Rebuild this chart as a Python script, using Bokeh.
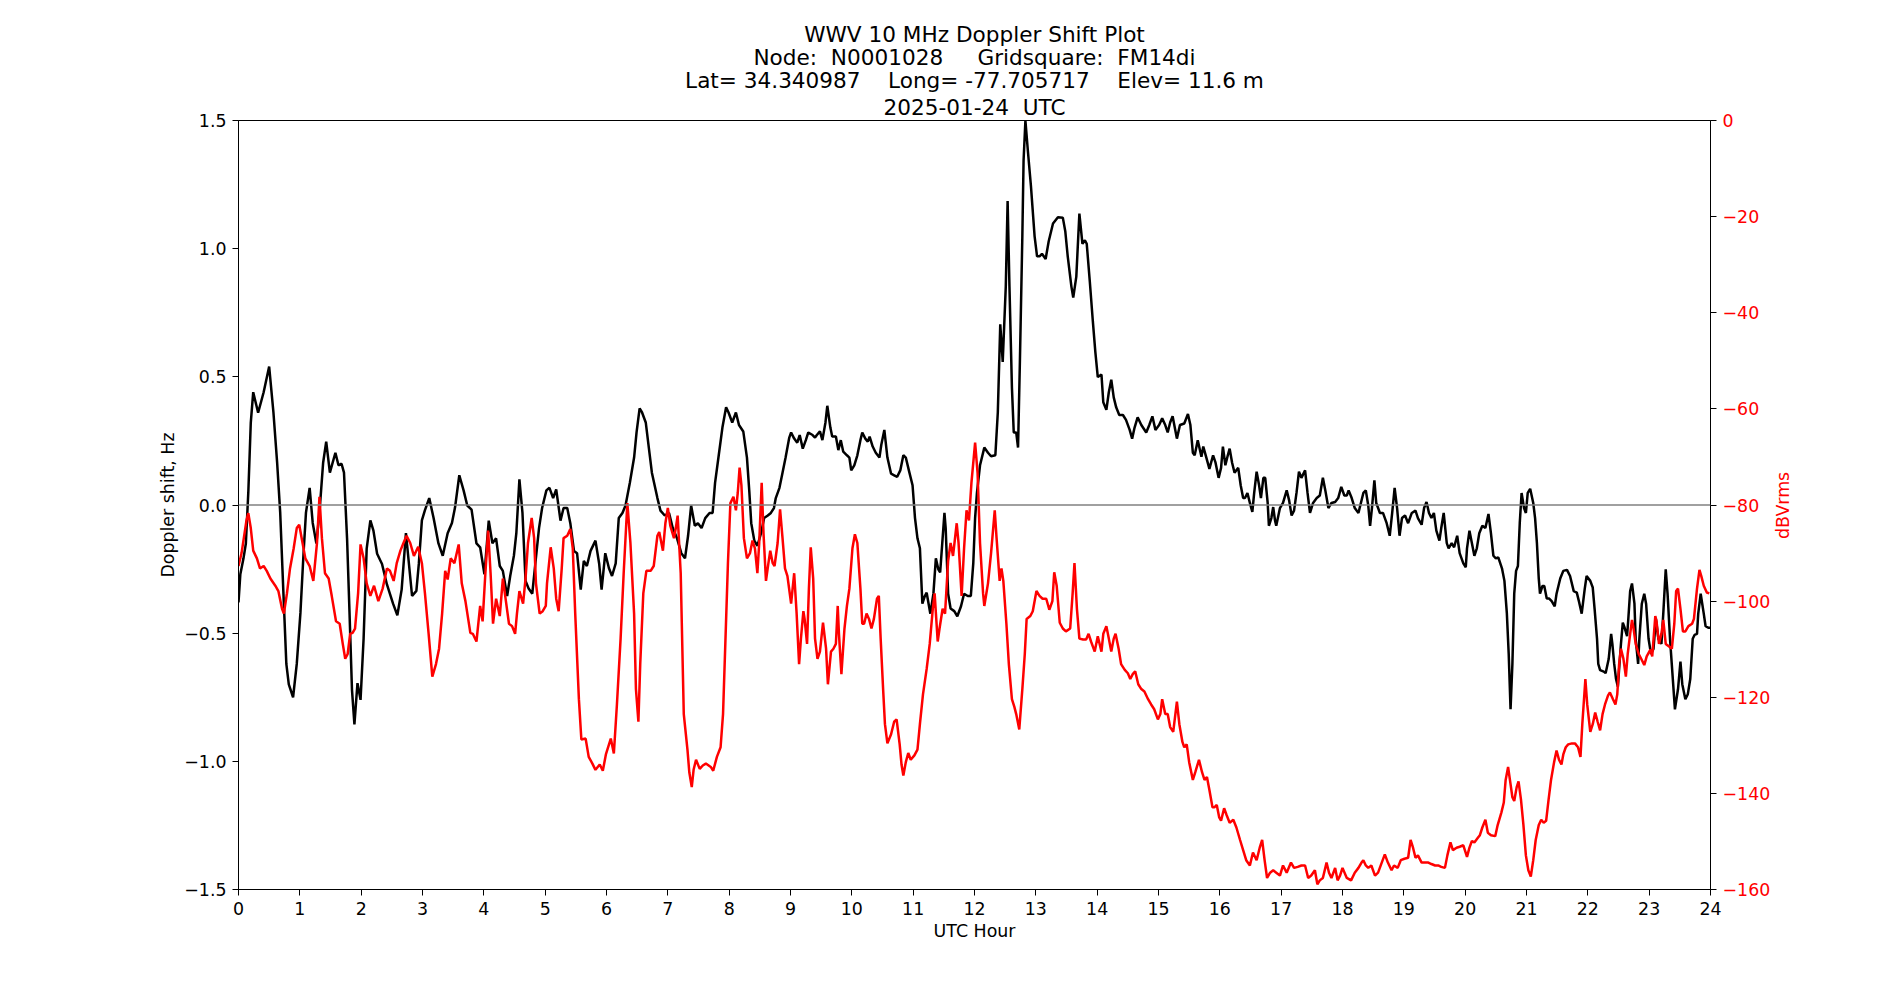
import math
from bokeh.plotting import figure
from bokeh.models import Range1d, LinearAxis, FixedTicker, Span, Title
from bokeh.embed import file_html
from bokeh.resources import INLINE

# ---------------- data ----------------
doppler_hours = [0.00,0.03,0.08,0.12,0.16,0.20,0.24,0.32,0.41,0.50,0.57,0.63,0.68,0.73,0.78,0.82,0.89,0.95,1.01,1.06,1.10,1.16,1.21,1.27,1.32,1.38,1.43,1.49,1.58,1.63,1.68,1.72,1.77,1.81,1.85,1.89,1.94,1.99,2.04,2.09,2.15,2.20,2.26,2.34,2.42,2.52,2.59,2.66,2.73,2.83,2.90,2.94,2.99,3.04,3.11,3.18,3.26,3.33,3.41,3.48,3.53,3.60,3.67,3.73,3.80,3.88,3.94,4.01,
    4.08,4.14,4.20,4.26,4.31,4.38,4.43,4.49,4.53,4.58,4.63,4.68,4.73,4.79,4.84,4.90,4.95,5.02,5.07,5.13,5.18,5.25,5.30,5.36,5.41,5.47,5.52,5.58,5.63,5.68,5.74,5.82,5.88,5.92,5.98,6.04,6.09,6.15,6.20,6.26,6.31,6.38,6.45,6.49,6.54,6.58,6.64,6.69,6.74,6.83,6.88,6.95,7.02,7.08,7.15,7.22,7.28,7.33,7.38,7.44,7.49,7.55,7.61,7.68,7.73,7.77,7.83,7.89,7.95,7.99,
    8.05,8.11,8.16,8.23,8.29,8.33,8.36,8.41,8.46,8.52,8.57,8.63,8.68,8.73,8.76,8.82,8.87,8.92,8.98,9.01,9.06,9.11,9.15,9.20,9.25,9.29,9.36,9.40,9.43,9.48,9.52,9.57,9.60,9.65,9.68,9.74,9.78,9.82,9.86,9.92,9.96,9.99,10.04,10.09,10.14,10.17,10.22,10.26,10.29,10.34,10.39,10.45,10.48,10.53,10.58,10.64,10.69,10.74,10.79,10.84,10.88,10.93,10.99,11.03,11.07,11.11,11.15,11.19,11.22,11.28,11.33,11.37,11.41,11.44,11.48,11.51,11.53,11.57,11.61,11.67,11.72,11.78,11.83,11.89,11.94,11.98,12.01,
    12.04,12.09,12.16,12.22,12.27,12.34,12.38,12.42,12.46,12.51,12.54,12.57,12.61,12.64,12.68,12.71,12.74,12.78,12.80,12.83,12.87,12.92,12.98,13.02,13.06,13.10,13.16,13.21,13.28,13.36,13.44,13.48,13.52,13.58,13.61,13.66,13.71,13.76,13.80,13.83,13.88,13.93,13.97,14.01,14.07,14.10,14.15,14.19,14.23,14.27,14.31,14.36,14.42,14.47,14.53,14.57,14.61,14.66,14.72,14.80,14.85,14.90,14.95,15.01,15.06,15.11,15.15,15.19,15.23,15.30,15.35,15.42,15.48,15.52,15.56,15.59,15.64,15.70,15.73,15.78,15.83,15.89,15.93,15.98,
    16.02,16.05,16.09,16.13,16.16,16.20,16.24,16.30,16.34,16.38,16.41,16.45,16.49,16.53,16.56,16.60,16.64,16.67,16.71,16.74,16.78,16.80,16.84,16.87,16.90,16.92,16.98,17.03,17.09,17.13,17.17,17.21,17.25,17.29,17.33,17.39,17.43,17.47,17.52,17.58,17.63,17.68,17.72,17.77,17.82,17.88,17.93,17.98,18.03,18.07,18.10,18.15,18.20,18.26,18.30,18.34,18.38,18.42,18.45,18.48,18.52,18.55,18.61,18.66,18.72,18.77,18.81,18.85,18.89,18.93,18.97,19.02,19.07,19.13,19.19,19.23,19.29,19.33,19.37,19.41,19.45,19.49,19.53,19.58,19.61,19.65,19.70,19.73,19.78,19.82,19.87,19.91,19.97,20.01,
    20.03,20.07,20.11,20.15,20.19,20.23,20.28,20.33,20.38,20.42,20.46,20.50,20.54,20.60,20.64,20.68,20.71,20.74,20.77,20.80,20.83,20.86,20.89,20.92,20.96,20.99,21.02,21.06,21.11,21.14,21.17,21.20,21.22,21.26,21.29,21.33,21.37,21.41,21.46,21.49,21.55,21.60,21.66,21.71,21.77,21.82,21.86,21.90,21.95,21.98,22.04,22.08,22.11,22.15,22.17,22.20,22.26,22.29,22.34,22.38,22.40,22.43,22.46,22.49,22.51,22.54,22.57,22.60,22.64,22.66,22.69,22.72,22.76,22.78,22.82,22.84,22.88,22.92,22.95,22.99,23.03,23.07,23.11,23.15,23.20,23.23,23.27,23.30,23.34,23.38,23.42,23.47,23.51,23.54,23.59,23.63,23.67,23.71,23.74,23.78,23.80,23.84,23.89,23.92,23.97,24.00]

doppler_hz = [-0.38,-0.27,-0.21,-0.15,0.05,0.32,0.44,0.36,0.44,0.54,0.36,0.165,-0.03,-0.33,-0.62,-0.70,-0.75,-0.62,-0.42,-0.19,-0.03,0.067,-0.07,-0.15,-0.03,0.165,0.247,0.126,0.204,0.155,0.161,0.126,-0.13,-0.42,-0.72,-0.856,-0.695,-0.76,-0.52,-0.17,-0.06,-0.10,-0.19,-0.23,-0.31,-0.385,-0.43,-0.33,-0.11,-0.355,-0.335,-0.23,-0.06,-0.02,0.027,-0.05,-0.15,-0.198,-0.11,-0.07,-0.01,0.116,0.057,-0.002,-0.018,-0.15,-0.165,-0.27,
    -0.061,-0.149,-0.130,-0.238,-0.257,-0.355,-0.277,-0.198,-0.110,0.100,-0.031,-0.296,-0.326,-0.346,-0.228,-0.090,-0.012,0.057,0.067,0.027,0.061,-0.061,-0.012,-0.012,-0.071,-0.179,-0.188,-0.330,-0.218,-0.238,-0.179,-0.139,-0.228,-0.330,-0.188,-0.247,-0.277,-0.228,-0.051,-0.031,-0.002,0.086,0.185,0.283,0.377,0.361,0.322,0.224,0.126,0.027,-0.022,-0.041,-0.031,-0.090,-0.130,-0.188,-0.208,-0.120,-0.002,-0.081,-0.071,-0.090,-0.051,-0.031,-0.031,0.086,0.194,0.302,0.381,0.361,
    0.322,0.361,0.312,0.287,0.185,0.047,-0.071,-0.139,-0.159,-0.110,-0.051,-0.041,-0.031,-0.012,0.027,0.067,0.126,0.185,0.263,0.283,0.259,0.243,0.273,0.220,0.253,0.283,0.273,0.263,0.273,0.287,0.253,0.322,0.387,0.302,0.267,0.267,0.214,0.253,0.208,0.194,0.185,0.135,0.155,0.194,0.253,0.283,0.259,0.247,0.267,0.228,0.204,0.185,0.234,0.293,0.185,0.122,0.116,0.110,0.135,0.194,0.185,0.135,0.077,-0.051,-0.130,-0.169,-0.385,-0.355,-0.342,-0.424,-0.346,-0.208,-0.251,-0.263,-0.130,-0.031,-0.090,-0.346,-0.404,-0.414,-0.434,-0.395,-0.346,-0.355,-0.355,-0.228,-0.05,
    0.047,0.155,0.224,0.204,0.190,0.194,0.361,0.705,0.558,0.852,1.186,0.852,0.459,0.283,0.283,0.224,0.558,1.048,1.343,1.50,1.382,1.245,1.048,0.970,0.970,0.980,0.960,1.029,1.098,1.123,1.121,1.068,0.970,0.852,0.809,0.891,1.137,1.019,1.033,1.019,0.872,0.715,0.597,0.499,0.509,0.401,0.371,0.440,0.489,0.420,0.381,0.351,0.351,0.332,0.293,0.259,0.302,0.342,0.312,0.283,0.312,0.346,0.293,0.312,0.338,0.312,0.283,0.322,0.346,0.259,0.312,0.318,0.355,0.312,0.204,0.194,0.253,0.188,0.228,0.185,0.141,0.194,0.165,0.106,
    0.145,0.228,0.155,0.194,0.220,0.165,0.126,0.145,0.077,0.027,0.027,0.047,0.008,-0.027,0.047,0.130,0.077,0.027,0.106,0.106,0.008,-0.081,-0.051,-0.008,-0.061,-0.081,-0.012,0.008,0.057,0.018,-0.041,-0.022,0.047,0.130,0.106,0.135,0.047,-0.031,0.008,0.027,0.037,0.106,0.057,-0.012,0.008,0.012,0.027,0.071,0.037,0.037,0.057,0.027,-0.012,-0.031,0.008,0.047,0.057,-0.002,-0.081,-0.012,0.096,0.008,-0.031,-0.031,-0.071,-0.120,-0.031,0.067,-0.012,-0.120,-0.051,-0.041,-0.071,-0.031,-0.022,-0.051,-0.077,-0.012,0.012,-0.031,-0.051,-0.031,-0.100,-0.139,-0.090,-0.031,-0.149,-0.169,-0.149,-0.165,-0.120,-0.188,-0.228,-0.243,
    -0.169,-0.100,-0.149,-0.198,-0.169,-0.110,-0.081,-0.090,-0.035,-0.110,-0.198,-0.208,-0.204,-0.247,-0.296,-0.424,-0.581,-0.797,-0.620,-0.346,-0.257,-0.238,-0.071,0.047,-0.012,-0.031,0.047,0.063,0.008,-0.051,-0.149,-0.287,-0.346,-0.316,-0.316,-0.365,-0.365,-0.375,-0.395,-0.346,-0.287,-0.257,-0.253,-0.277,-0.336,-0.342,-0.381,-0.424,-0.326,-0.277,-0.296,-0.322,-0.404,-0.522,-0.620,-0.644,-0.650,-0.656,-0.601,-0.503,-0.542,-0.620,-0.679,-0.709,-0.640,-0.542,-0.459,-0.479,-0.512,-0.444,-0.336,-0.306,-0.385,-0.522,-0.620,-0.522,-0.385,-0.346,-0.385,-0.522,-0.581,-0.562,-0.444,-0.522,-0.542,-0.424,-0.251,-0.346,-0.522,-0.660,-0.797,-0.719,-0.611,-0.699,-0.758,-0.738,-0.679,-0.522,-0.507,-0.503,-0.424,-0.346,-0.424,-0.473,-0.479,-0.479]

power_hours = [0.00,0.05,0.13,0.16,0.20,0.24,0.30,0.35,0.41,0.46,0.52,0.60,0.65,0.71,0.74,0.79,0.84,0.90,0.95,0.99,1.03,1.09,1.16,1.22,1.28,1.32,1.36,1.41,1.47,1.52,1.59,1.65,1.70,1.74,1.78,1.82,1.86,1.90,1.95,1.99,2.04,2.09,2.15,2.21,2.28,2.35,2.42,2.47,2.53,2.58,2.64,2.69,2.74,2.80,2.86,2.93,2.99,3.04,3.10,3.16,3.22,3.27,3.32,3.37,3.41,3.46,3.52,3.59,3.64,3.70,3.78,3.82,3.88,3.94,3.98,
    4.02,4.07,4.11,4.15,4.20,4.26,4.31,4.36,4.41,4.46,4.51,4.54,4.58,4.64,4.68,4.72,4.78,4.82,4.85,4.91,4.96,5.01,5.03,5.09,5.14,5.18,5.22,5.27,5.30,5.36,5.41,5.45,5.49,5.55,5.59,5.66,5.71,5.77,5.82,5.89,5.94,5.99,6.07,6.12,6.17,6.23,6.28,6.34,6.39,6.45,6.48,6.52,6.55,6.60,6.65,6.72,6.77,6.83,6.86,6.92,6.96,7.00,7.04,7.10,7.13,7.16,7.21,7.26,7.32,7.35,7.39,7.42,7.46,7.52,7.57,7.62,7.70,7.74,7.80,7.86,7.90,7.94,7.98,8.02,
    8.07,8.11,8.14,8.17,8.20,8.24,8.29,8.34,8.38,8.42,8.46,8.49,8.53,8.56,8.60,8.64,8.67,8.71,8.74,8.79,8.83,8.87,8.91,8.95,9.01,9.06,9.10,9.14,9.17,9.21,9.23,9.27,9.30,9.33,9.37,9.40,9.44,9.48,9.53,9.58,9.61,9.66,9.70,9.74,9.77,9.79,9.83,9.88,9.92,9.96,10.01,10.05,10.09,10.14,10.17,10.20,10.24,10.28,10.32,10.36,10.41,10.44,10.47,10.51,10.54,10.58,10.64,10.69,10.73,10.78,10.81,10.84,10.88,10.92,10.96,11.02,11.07,11.11,11.16,11.22,11.27,11.32,11.35,11.40,11.43,11.48,11.52,11.57,11.61,11.65,11.71,11.74,11.79,11.83,11.87,11.91,11.95,12.01,
    12.05,12.09,12.14,12.16,12.22,12.27,12.33,12.36,12.41,12.44,12.47,12.52,12.56,12.61,12.65,12.68,12.73,12.78,12.82,12.85,12.91,12.95,13.01,13.06,13.11,13.17,13.22,13.27,13.30,13.34,13.39,13.44,13.49,13.56,13.60,13.63,13.67,13.71,13.77,13.82,13.86,13.90,13.96,14.01,14.07,14.10,14.15,14.19,14.23,14.27,14.30,14.35,14.39,14.45,14.50,14.54,14.58,14.62,14.67,14.72,14.77,14.83,14.88,14.93,14.99,15.03,15.06,15.11,15.15,15.19,15.24,15.30,15.34,15.39,15.42,15.46,15.50,15.56,15.60,15.66,15.71,15.75,15.79,15.83,15.88,15.91,15.95,15.99,16.02,
    16.07,16.11,16.16,16.22,16.27,16.33,16.38,16.43,16.49,16.54,16.60,16.65,16.69,16.73,16.77,16.82,16.87,16.92,16.98,17.03,17.09,17.16,17.21,17.27,17.33,17.39,17.44,17.49,17.55,17.59,17.63,17.68,17.74,17.78,17.82,17.88,17.92,17.96,18.00,18.07,18.14,18.20,18.26,18.31,18.34,18.38,18.42,18.47,18.53,18.58,18.64,18.69,18.74,18.80,18.84,18.90,18.95,19.01,19.07,19.11,19.15,19.19,19.23,19.29,19.34,19.40,19.45,19.51,19.56,19.61,19.67,19.71,19.76,19.80,19.86,19.91,19.97,
    20.03,20.07,20.11,20.15,20.21,20.24,20.28,20.33,20.37,20.42,20.49,20.53,20.59,20.63,20.66,20.70,20.73,20.77,20.80,20.84,20.87,20.91,20.95,20.99,21.03,21.07,21.11,21.15,21.20,21.24,21.28,21.32,21.36,21.40,21.45,21.49,21.53,21.57,21.60,21.64,21.68,21.74,21.79,21.84,21.88,21.91,21.96,21.99,22.04,22.08,22.12,22.16,22.20,22.24,22.28,22.33,22.36,22.41,22.45,22.48,22.51,22.54,22.58,22.62,22.65,22.69,22.72,22.74,22.78,22.83,22.87,22.92,22.96,23.02,23.05,23.10,23.12,23.16,23.20,23.23,23.27,23.32,23.37,23.41,23.44,23.47,23.51,23.55,23.59,23.64,23.70,23.73,23.78,23.82,23.85,23.89,23.94,23.98]

power_dbvrms = [-92.7,-90.0,-83.2,-81.7,-84.8,-89.5,-91.1,-93.2,-92.7,-93.7,-95.3,-96.8,-97.9,-101.6,-102.6,-98.4,-93.2,-89.0,-84.8,-84.1,-86.9,-91.1,-92.7,-95.8,-87.9,-78.3,-86.9,-94.2,-95.3,-98.9,-104.2,-104.7,-108.9,-112.0,-111.0,-106.8,-106.6,-105.7,-98.4,-88.2,-91.1,-96.3,-98.9,-96.8,-100.0,-97.4,-93.2,-93.7,-95.8,-92.1,-89.5,-87.9,-86.4,-87.9,-90.6,-88.7,-92.1,-98.4,-106.8,-115.7,-113.1,-109.9,-102.6,-93.7,-95.5,-91.1,-92.1,-88.2,-96.3,-100.0,-106.6,-106.8,-108.4,-101.0,-104.2,
    -95.3,-85.3,-94.2,-104.7,-99.5,-103.1,-95.3,-100.0,-104.7,-105.2,-106.8,-102.6,-97.9,-100.5,-95.3,-87.9,-82.7,-86.9,-96.3,-102.6,-102.1,-101.0,-96.3,-88.8,-93.2,-99.5,-102.1,-93.2,-86.9,-86.4,-85.0,-89.0,-102.6,-120.4,-128.8,-128.6,-132.4,-133.8,-135.1,-134.0,-135.3,-131.9,-128.6,-131.7,-121.5,-107.8,-94.2,-79.6,-87.9,-102.6,-118.3,-125.1,-113.1,-98.4,-93.7,-93.7,-92.7,-86.4,-85.6,-89.5,-83.8,-80.6,-84.3,-86.9,-84.8,-82.2,-94.2,-123.5,-130.9,-135.6,-138.7,-135.1,-133.0,-134.9,-134.2,-133.8,-134.5,-135.3,-132.4,-130.4,-123.5,-107.8,-92.1,-79.6,
    -78.3,-81.1,-77.5,-72.2,-75.9,-86.9,-91.1,-90.0,-87.4,-89.0,-94.2,-87.9,-75.4,-85.9,-95.8,-92.1,-89.5,-92.1,-92.7,-87.9,-80.9,-86.9,-93.2,-94.8,-100.5,-94.2,-102.6,-113.1,-107.8,-102.1,-103.7,-108.9,-97.4,-88.8,-95.3,-107.8,-112.0,-110.5,-104.5,-109.9,-117.3,-110.5,-109.9,-108.9,-101.0,-106.8,-115.2,-105.7,-101.0,-97.4,-89.0,-86.1,-87.9,-97.4,-104.7,-104.7,-102.6,-103.7,-105.7,-103.7,-99.5,-98.9,-107.8,-118.3,-125.6,-129.6,-127.7,-125.1,-124.6,-129.8,-134.0,-136.3,-133.5,-131.6,-133.0,-132.1,-130.9,-125.6,-119.4,-114.1,-108.9,-101.6,-98.4,-108.4,-105.7,-101.6,-102.6,-91.6,-87.9,-90.6,-83.8,-87.9,-98.9,-89.0,-81.1,-83.2,-75.4,-67.0,
    -73.3,-87.9,-98.4,-101.0,-96.3,-90.0,-81.1,-86.9,-95.8,-93.2,-95.8,-104.7,-113.1,-120.4,-122.0,-123.5,-126.7,-118.3,-111.0,-103.7,-103.1,-102.1,-97.9,-98.9,-99.5,-99.5,-101.8,-100.0,-94.0,-96.8,-104.5,-105.7,-106.3,-105.7,-98.4,-92.1,-101.6,-107.8,-108.0,-108.0,-106.8,-108.4,-110.5,-107.3,-110.5,-106.8,-105.2,-107.8,-110.5,-107.8,-106.8,-109.9,-113.1,-114.3,-115.0,-116.2,-115.2,-114.6,-117.3,-118.3,-118.8,-120.4,-121.5,-122.5,-124.6,-123.5,-120.4,-123.5,-123.5,-126.2,-127.2,-120.9,-125.6,-129.3,-130.4,-129.8,-133.5,-137.2,-135.6,-133.0,-135.6,-137.2,-136.6,-139.3,-142.9,-142.9,-142.4,-145.0,-145.7,
    -143.1,-144.5,-146.1,-145.5,-147.1,-149.7,-151.8,-153.9,-155.0,-152.3,-153.9,-151.3,-149.7,-153.9,-157.6,-156.5,-156.0,-156.5,-157.1,-155.0,-156.5,-154.4,-155.5,-155.3,-155.0,-155.0,-157.6,-157.1,-156.0,-158.9,-158.1,-157.6,-154.4,-156.5,-157.6,-155.5,-158.1,-157.1,-155.5,-157.6,-158.1,-156.5,-155.5,-154.4,-153.9,-155.0,-155.5,-155.0,-157.1,-156.5,-154.4,-152.7,-154.4,-156.0,-155.0,-155.5,-153.9,-153.6,-153.4,-149.7,-151.3,-153.4,-152.9,-154.4,-154.4,-154.4,-154.7,-155.0,-155.0,-155.3,-155.5,-152.9,-150.2,-151.8,-151.3,-151.1,-150.8,
    -153.2,-151.3,-149.9,-150.2,-149.2,-148.7,-147.1,-145.5,-148.2,-148.7,-148.9,-146.6,-144.0,-141.9,-137.2,-134.5,-137.2,-140.8,-141.6,-138.7,-137.5,-141.3,-146.6,-152.9,-156.0,-157.3,-153.9,-149.7,-146.6,-145.5,-146.1,-145.7,-141.3,-137.2,-133.5,-131.1,-133.0,-134.0,-131.9,-130.4,-129.8,-129.6,-129.6,-130.4,-132.4,-125.6,-116.2,-121.5,-127.2,-125.6,-123.2,-125.1,-126.9,-123.5,-121.5,-119.6,-119.0,-120.4,-121.5,-119.4,-113.1,-109.9,-112.0,-115.7,-111.0,-106.8,-103.9,-105.2,-108.9,-111.0,-112.0,-113.3,-111.5,-110.1,-111.5,-103.1,-104.2,-108.9,-106.8,-103.9,-108.9,-109.4,-109.9,-104.7,-97.9,-97.4,-101.6,-106.3,-106.3,-105.2,-104.7,-103.7,-97.4,-93.5,-94.8,-96.8,-98.2,-98.4]

x_ticks = list(range(0, 25))
left_ticks = [-1.5, -1.0, -0.5, 0.0, 0.5, 1.0, 1.5]
left_labels = ["\u22121.5", "\u22121.0", "\u22120.5", "0.0", "0.5", "1.0", "1.5"]
right_ticks = [-160, -140, -120, -100, -80, -60, -40, -20, 0]
right_labels = ["\u2212160", "\u2212140", "\u2212120", "\u2212100", "\u221280", "\u221260", "\u221240", "\u221220", "0"]

title_lines = ["WWV 10 MHz Doppler Shift Plot",
               "Node:  N0001028     Gridsquare:  FM14di",
               "Lat= 34.340987    Long= -77.705717    Elev= 11.6 m",
               "2025-01-24  UTC"]
right_label_text = "dBVrms"

FONT = "DejaVu Sans"
TICK_PX = "17.4px"

W, H = 1900, 1000
FRAME_L, FRAME_R, FRAME_T, FRAME_B = 238, 190, 120, 111


def keep_spaces(s):
    # SVG collapses runs of spaces; keep the visual gaps with no-break spaces
    return s.replace("  ", " \u00a0").replace("  ", " \u00a0")


# ---------------- figure ----------------
p = figure(width=W, height=H,
           x_range=Range1d(0, 24), y_range=Range1d(-1.5, 1.5),
           output_backend="svg", toolbar_location=None,
           min_border_left=FRAME_L, min_border_right=FRAME_R,
           min_border_top=FRAME_T, min_border_bottom=FRAME_B,
           background_fill_color="white", border_fill_color="white")

# title lines, stacked (the one added last is the farthest from the plot)
for i, line in enumerate(reversed(title_lines)):
    t = Title(text=keep_spaces(line), align="center",
              text_font=FONT, text_font_size="21.6px", text_font_style="normal",
              text_color="black", text_line_height=0.93,
              standoff=(1.5 if i == 0 else -3.9), offset=0)
    p.add_layout(t, "above")

p.xgrid.visible = False
p.ygrid.visible = False
p.outline_line_color = "black"
p.outline_line_width = 1
p.outline_line_alpha = 1.0


def style_axis(ax, label_color="black"):
    ax.axis_line_color = "black"
    ax.major_tick_line_color = "black"
    ax.major_tick_out = 6
    ax.major_tick_in = 0
    ax.minor_tick_out = 0
    ax.minor_tick_in = 0
    ax.major_label_standoff = 6
    ax.major_label_text_font = FONT
    ax.major_label_text_font_size = TICK_PX
    ax.major_label_text_color = label_color
    ax.axis_label_text_font = FONT
    ax.axis_label_text_font_size = TICK_PX
    ax.axis_label_text_font_style = "normal"
    ax.axis_label_text_color = label_color


xa = p.xaxis[0]
style_axis(xa)
xa.ticker = FixedTicker(ticks=x_ticks)
xa.axis_label = "UTC Hour"
xa.axis_label_standoff = 3

ya = p.yaxis[0]
style_axis(ya)
ya.ticker = FixedTicker(ticks=left_ticks)
ya.major_label_overrides = {t: s for t, s in zip(left_ticks, left_labels)}
ya.axis_label = "Doppler shift, Hz"
ya.axis_label_standoff = 3

p.extra_y_ranges = {"db": Range1d(-160, 0)}
ra = LinearAxis(y_range_name="db")
style_axis(ra, "red")
ra.ticker = FixedTicker(ticks=right_ticks)
ra.major_label_overrides = {t: s for t, s in zip(right_ticks, right_labels)}
p.add_layout(ra, "right")

# right-hand axis title "dBVrms", reading bottom-to-top (as matplotlib's ylabel).
# Drawn as the single rotated tick label of a bare outer axis; rotated labels start
# at their tick, so the tick sits half a label length below the axis middle.
label_px = 68.0
frame_h = H - FRAME_T - FRAME_B
label_tick = -80 - (label_px / 2) * 160 / frame_h
la = LinearAxis(y_range_name="db")
la.ticker = FixedTicker(ticks=[label_tick])
la.major_label_overrides = {label_tick: right_label_text}
la.major_label_orientation = math.pi / 2
la.axis_line_color = None
la.major_tick_line_color = None
la.minor_tick_line_color = None
la.major_tick_out = 0
la.major_tick_in = 0
la.minor_tick_out = 0
la.minor_tick_in = 0
la.major_label_standoff = 9
la.major_label_text_font = FONT
la.major_label_text_font_size = TICK_PX
la.major_label_text_color = "red"
p.add_layout(la, "right")

p.add_layout(Span(location=0, dimension="width", line_color="gray", line_width=1.3))

p.line(doppler_hours, doppler_hz, line_color="black", line_width=2.5)
p.line(power_hours, power_dbvrms, line_color="red", line_width=2.5, y_range_name="db")

open("out.html", "w").write(file_html(p, INLINE))
